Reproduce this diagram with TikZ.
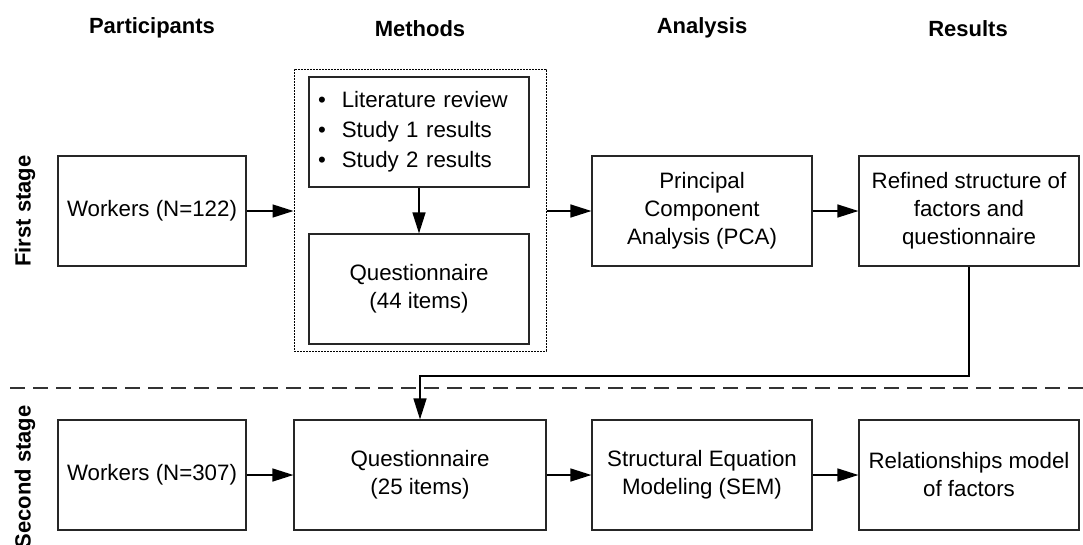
\documentclass[tikz,border=0pt]{standalone}
\usepackage{fontspec}
\setmainfont{Liberation Sans}
\usetikzlibrary{arrows.meta}
\begin{document}
\begin{tikzpicture}[x=1pt,y=-1pt,
  txt/.style={font=\fontsize{22.3}{28}\selectfont, align=center},
  box/.style={txt, draw=black!85, line width=1.2pt, minimum width=220pt, minimum height=110pt, inner sep=0pt},
  narrow/.style={box, minimum width=188pt},
  wide/.style={box, minimum width=252pt},
  head/.style={font=\fontsize{22}{26}\selectfont\bfseries},
  flow/.style={line width=1.4pt, -{Triangle[length=21pt,width=13pt]}},
  link/.style={line width=1.4pt}
]
\useasboundingbox (0,0) rectangle (1083,544);

% column headings
\node[head] (h1) at (152,28) {Participants};
\node[head] (h2) at (420,29) {Methods};
\node[head] (h3) at (702,28) {Analysis};
\node[head] (h4) at (968,29) {Results};

% stage labels
\node[head, rotate=90] (s1) at (25,211) {First stage};
\node[head, rotate=90] (s2) at (25,477) {Second stage};

% stage separator
\draw[black!80, line width=1.3pt, dash pattern=on 15pt off 8pt] (10,388) -- (1083,388);

% first stage
\node[narrow] (w1) at (152,211) {Workers (N=122)};
\node[draw=black, line width=1pt, dash pattern=on 1.6pt off 1.4pt,
      minimum width=252pt, minimum height=282pt, inner sep=0pt] (meth) at (420,210) {};
\node[box, font=\fontsize{22.3}{30}\selectfont, align=left, text width=202pt, inner xsep=9pt] (bul) at (419,132)
  {\textbullet\hspace{16pt}Literature review\\ \textbullet\hspace{16pt}Study 1 results\\ \textbullet\hspace{16pt}Study 2 results};
\node[box] (q44) at (419,289) {Questionnaire\\(44 items)};
\node[box] (pca) at (702,211) {Principal\\Component\\Analysis (PCA)};
\node[box] (ref) at (969,211) {Refined structure of\\factors and\\questionnaire};

% second stage
\node[narrow] (w2) at (152,475) {Workers (N=307)};
\node[wide] (q25) at (420,475) {Questionnaire\\(25 items)};
\node[box] (sem) at (702,475) {Structural Equation\\Modeling (SEM)};
\node[box] (rel) at (969,475) {Relationships model\\of factors};

% connectors
\draw[flow] (w1.east) -- (meth.west |- w1.east);
\draw[flow] (meth.east |- pca.west) -- (pca.west);
\draw[flow] (pca) -- (ref);
\draw[flow] (bul) -- (q44);
\coordinate (turn) at (969,376);
\draw[flow] (ref.south) -- (turn) -| (q25.north);
\draw[flow] (w2) -- (q25);
\draw[flow] (q25) -- (sem);
\draw[flow] (sem) -- (rel);
\end{tikzpicture}
\end{document}
